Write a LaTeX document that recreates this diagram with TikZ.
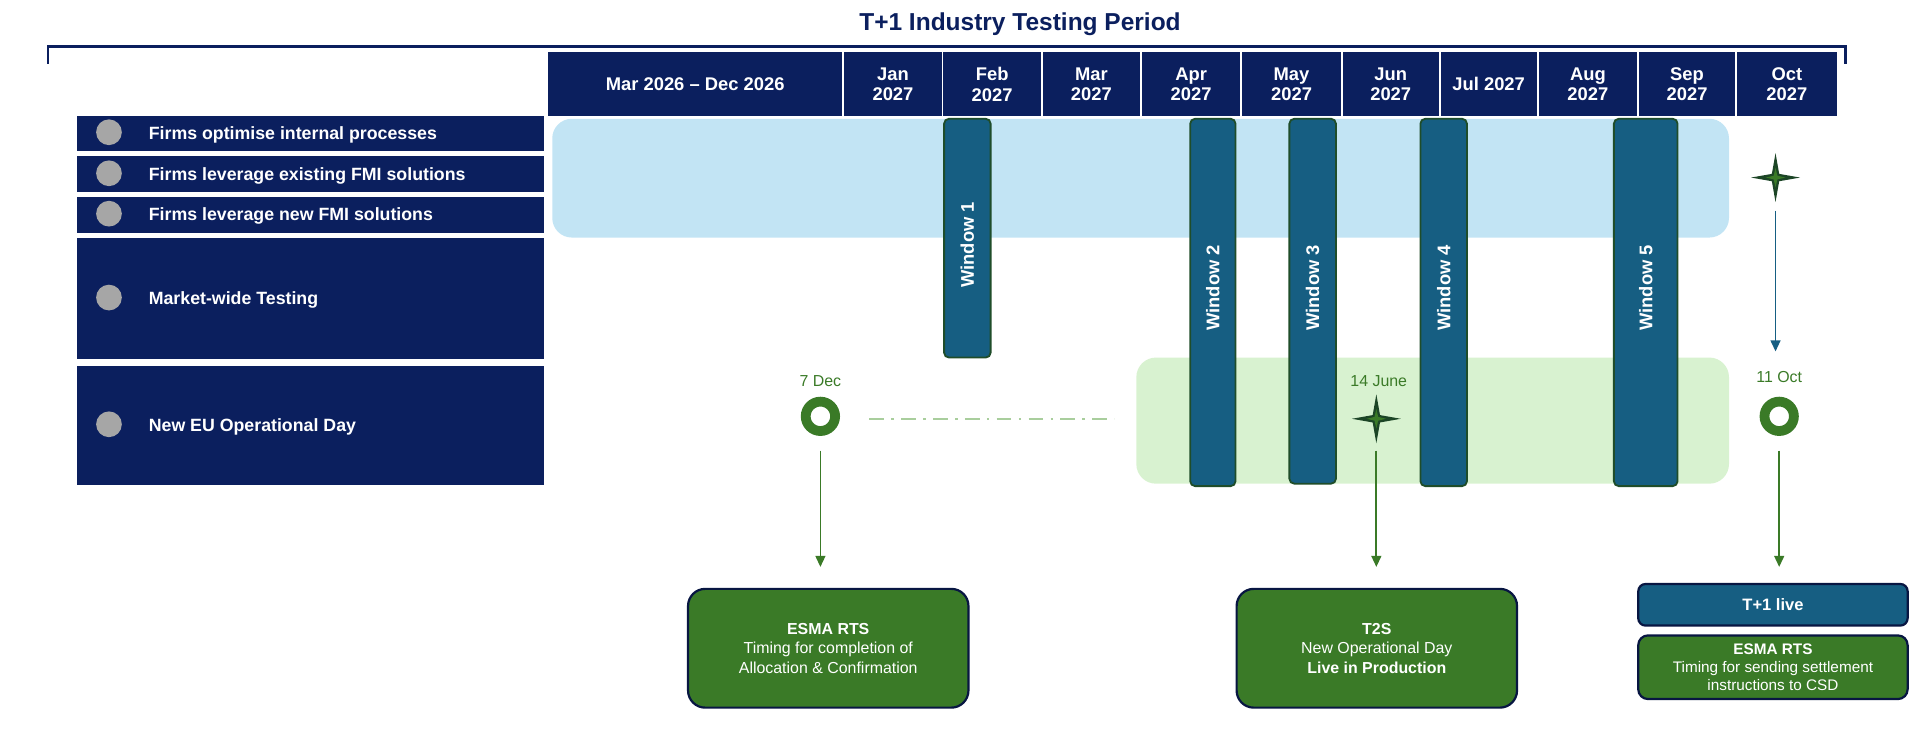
\documentclass[tikz,border=0pt]{standalone}
\usepackage{fontspec}
\setmainfont{Liberation Sans}
\usetikzlibrary{arrows.meta}
\definecolor{navy}{HTML}{0B1F5E}
\definecolor{teal}{HTML}{165E82}
\definecolor{dgreen}{HTML}{1F4D2A}
\definecolor{mgreen}{HTML}{3A7A27}
\definecolor{lblue}{HTML}{C2E4F4}
\definecolor{lgreen}{HTML}{D8F2D0}
\definecolor{circ}{HTML}{A6A6A6}
\begin{document}
\begin{tikzpicture}[x=1pt,y=-1pt,
 hdr/.style={fill=navy,draw=white,line width=1.5pt,text=white,font=\bfseries\fontsize{15}{17}\selectfont,align=center,inner sep=0},
 row/.style={fill=navy,draw=white,line width=1.5pt,inner sep=0},
 rowt/.style={text=white,font=\bfseries\fontsize{14.5}{16}\selectfont,anchor=west},
 win/.style={fill=teal,draw=dgreen,line width=1.5pt,rounded corners=4pt},
 wint/.style={text=white,font=\bfseries\fontsize{15}{17}\selectfont,rotate=90},
 date/.style={text=mgreen,font=\fontsize{13}{15}\selectfont},
 ring/.style={circle,draw=mgreen,line width=8pt,minimum size=24pt,inner sep=0,fill=white},
 garr/.style={draw=mgreen,line width=1.5pt,-{Triangle[length=9pt,width=8pt]}},
 bbox/.style={fill=mgreen,draw=navy!70!black,line width=1.8pt,rounded corners=14pt,text=white,align=center,font=\fontsize{13}{16}\selectfont},
 star/.pic={\fill[dgreen!90!black] (0,-20) -- (3,-3) -- (20,0) -- (3,3) -- (0,20) -- (-3,3) -- (-20,0) -- (-3,-3) -- cycle;
            \fill[mgreen] (0,-8) -- (1.5,-1.5) -- (8,0) -- (1.5,1.5) -- (0,8) -- (-1.5,1.5) -- (-8,0) -- (-1.5,-1.5) -- cycle;}
]
\useasboundingbox (0,0) rectangle (1568,616);
% title and bracket
\node[font=\bfseries\fontsize{20}{22}\selectfont,text=navy] (title) at (833,20) {T+1 Industry Testing Period};
\draw[navy,line width=2pt] (39,52) -- (39,38) -- (1507,38) -- (1507,52);
% headers
\foreach \a/\b/\t [count=\i] in {446/688/{Mar 2026 -- Dec 2026},688/769/{Jan\\2027},769/850/{Feb\\2027},850/931/{Mar\\2027},931/1013/{Apr\\2027},1013/1095/{May\\2027},1095/1175/{Jun\\2027},1175/1255/{Jul 2027},1255/1337/{Aug\\2027},1337/1417/{Sep\\2027},1417/1500/{Oct\\2027}}
  \node[hdr,minimum width={\b-\a},minimum height=54,anchor=north west] (h\i) at (\a,41) {\t};
% bands
\fill[lblue,rounded corners=16pt] (451,97) rectangle (1412,194);
\fill[lgreen,rounded corners=16pt] (928,292) rectangle (1412,395);
% rows
\foreach \ya/\yb/\t [count=\i] in {93/123/{Firms optimise internal processes},126/157/{Firms leverage existing FMI solutions},159/190/{Firms leverage new FMI solutions},193/293/{Market-wide Testing},297/396/{New EU Operational Day}}{
  \node[row,minimum width=383,minimum height={\yb-\ya},anchor=north west] (r\i) at (61,\ya) {};
  \fill[circ] (89,{(\ya+\yb)/2}) circle (10.5);
  \node[rowt] (rt\i) at (118,{(\ya+\yb)/2+2}) {\t};
}
% windows
\foreach \a/\b/\yb/\ly/\n in {771/809/292/200/1,972/1009/397/235/2,1053/1091/395/235/3,1160/1198/397/235/4,1318/1370/397/235/5}{
  \draw[win] (\a,97) rectangle (\b,\yb);
  \node[wint] (w\n) at ({(\a+\b)/2},\ly) {Window \n};
}
% stars and markers
\pic at (1450,145) {star};
\coordinate (s1b) at (1450,172);
\coordinate (oct) at (1450,287);
\draw[teal,line width=1.5pt,-{Triangle[length=9pt,width=8pt]}] (s1b) -- (oct);
\node[date] (d7) at (670,311) {7 Dec};
\node[ring] (c7) at (670,340) {};
\node[date] (d14) at (1126,311) {14 June};
\pic at (1124,342) {star};
\coordinate (s2) at (1124,368);
\node[date] (d11) at (1453,308) {11 Oct};
\node[ring] (c11) at (1453,340) {};
\coordinate (c7l) at (710,342); \coordinate (c7r) at (910,342);
\draw[lgreen!70!mgreen,line width=1.8pt,dash pattern=on 12pt off 6pt on 2pt off 6pt] (c7l) -- (c7r);
% bottom boxes
\node[bbox,minimum width=229,minimum height=97,anchor=north west] (b1) at (561,480) {\textbf{ESMA RTS}\\Timing for completion of\\Allocation \& Confirmation};
\node[bbox,minimum width=229,minimum height=97,anchor=north west] (b2) at (1009,480) {\textbf{T2S}\\New Operational Day\\\textbf{Live in Production}};
\node[bbox,fill=teal,rounded corners=6pt,minimum width=220,minimum height=34,anchor=north west,font=\bfseries\fontsize{13.5}{16}\selectfont] (b3) at (1337,476) {T+1 live};
\node[bbox,rounded corners=8pt,minimum width=220,minimum height=52,anchor=north west,font=\fontsize{12.5}{14.5}\selectfont] (b4) at (1337,518) {\textbf{ESMA RTS}\\Timing for sending settlement\\instructions to CSD};
\coordinate (a1) at (670,463); \coordinate (a2) at (1124,463); \coordinate (a3) at (1453,463);
\coordinate (c7b) at (670,368); \coordinate (c11b) at (1453,368);
\draw[garr] (c7b) -- (a1);
\draw[garr] (s2) -- (a2);
\draw[garr] (c11b) -- (a3);
\end{tikzpicture}
\end{document}
